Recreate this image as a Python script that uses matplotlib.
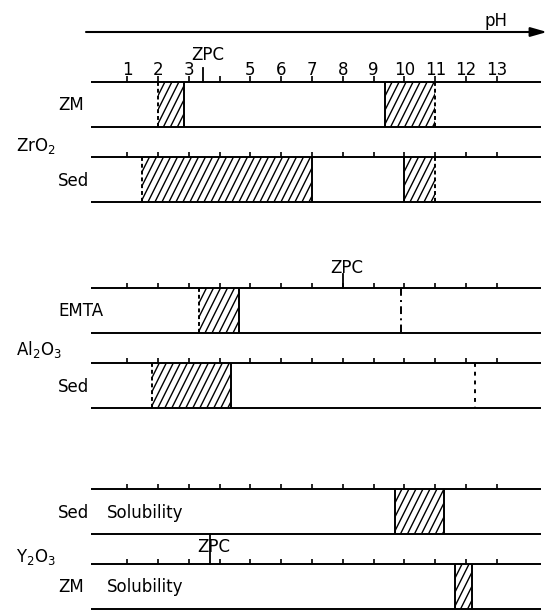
import matplotlib
matplotlib.use("Agg")
import matplotlib.pyplot as plt
import numpy as np
from matplotlib.collections import LineCollection
from matplotlib.patches import Rectangle

plt.rcParams["font.family"] = "DejaVu Sans"
plt.rcParams["mathtext.default"] = "regular"

# pH scale shown on the top row
PH_TICKS = list(range(1, 14))
PH_TICK_LABELS = ["1", "2", "3", "", "5", "6", "7", "8", "9", "10", "11", "12", "13"]

# one row per method, grouped by oxide
ROW_LABELS = ["ZM", "Sed", "EMTA", "Sed", "Sed", "ZM"]
ROW_NOTES = ["", "", "", "", "Solubility", "Solubility"]
OXIDES = ["ZrO$_2$", "Al$_2$O$_3$", "Y$_2$O$_3$"]

# hatched pH windows for each row
BAND_LO = [[2.0, 9.37], [1.5, 10.0], [3.35], [1.82], [9.69], [11.64]]
BAND_HI = [[2.85, 11.0], [7.0, 11.0], [4.64], [4.37], [11.27], [12.2]]
# boundaries that are not firmly fixed (drawn dashed)
LO_OPEN = [[True, False], [True, False], [True], [True], [False], [False]]
HI_OPEN = [[False, True], [False, True], [False], [False], [False], [False]]

# zero point of charge of each oxide
ZPC_ROW = [0, 2, 5]
ZPC_PH = [3.47, 8.0, 3.69]

# single pH marks
EMTA_MARK_PH = 9.9
SED_AL_MARK_PH = 12.3


# ---- layout (pixels) ----
W, H = 549, 612
PX_PER_PH = 30.83
PH0_PX = 96.2
ROW_TOP = [82, 157, 288, 363, 489, 564]
ROW_H = 45
LINE_X = (-0.17, 14.43)
OXIDE_Y = [146, 350, 557]


def px_to_ph(px):
    return (px - PH0_PX) / PX_PER_PH


def hatch_band(ax, lo, hi, top, spacing_px=7.0, rise=2.0):
    rect = Rectangle((lo, top), hi - lo, ROW_H, facecolor="none", edgecolor="none")
    ax.add_patch(rect)
    dx = ROW_H / rise / PX_PER_PH
    step = spacing_px / PX_PER_PH
    starts = np.arange(lo - dx, hi + step, step)
    segs = [[(x0, top + ROW_H), (x0 + dx, top)] for x0 in starts]
    lc = LineCollection(segs, colors="black", linewidths=1.0)
    ax.add_collection(lc)
    lc.set_clip_path(rect)


def band_edge(ax, x, top, is_open):
    ls = (0, (2.0, 1.5)) if is_open else "-"
    ax.plot([x, x], [top, top + ROW_H], color="black", lw=1.4, ls=ls,
            solid_capstyle="butt")


fig = plt.figure(figsize=(W / 100, H / 100), dpi=100)
ax = fig.add_axes([0, 0, 1, 1])
ax.set_xlim(px_to_ph(0), px_to_ph(W))
ax.set_ylim(H, 0)
ax.axis("off")

# pH arrow
ax.annotate("", xy=(px_to_ph(547), 32), xytext=(px_to_ph(86), 32),
            arrowprops=dict(arrowstyle="-|>,head_length=0.7,head_width=0.2",
                            lw=1.5, color="black", shrinkA=0, shrinkB=0,
                            mutation_scale=14))
ax.text(px_to_ph(496), 21, "pH", fontsize=12, ha="center", va="center")

for i, top in enumerate(ROW_TOP):
    ax.hlines([top, top + ROW_H], *LINE_X, color="black", lw=1.4)
    tick_len = 6 if i == 0 else 5
    ax.vlines(PH_TICKS, top - tick_len, top, color="black", lw=1.2)

    for lo, hi, lo_open, hi_open in zip(BAND_LO[i], BAND_HI[i], LO_OPEN[i], HI_OPEN[i]):
        hatch_band(ax, lo, hi, top)
        band_edge(ax, lo, top, lo_open)
        band_edge(ax, hi, top, hi_open)

    mid = top + ROW_H / 2
    ax.text(px_to_ph(58), mid + 1, ROW_LABELS[i], fontsize=12, ha="left", va="center")
    if ROW_NOTES[i]:
        ax.text(px_to_ph(107), mid + 1, ROW_NOTES[i], fontsize=12, ha="left", va="center")

# pH numbers above the first row
for t, lab in zip(PH_TICKS, PH_TICK_LABELS):
    ax.text(t, 70, lab, fontsize=12, ha="center", va="center")

for name, y in zip(OXIDES, OXIDE_Y):
    ax.text(px_to_ph(16), y, name, fontsize=12, ha="left", va="center")

# ZPC marks: the stroke runs into the stem of the "P"
zpc_label_y = [55, 268, 547]
zpc_stroke = [(68, ROW_TOP[0]), (274, ROW_TOP[2]), (ROW_TOP[4] + ROW_H, ROW_TOP[5])]
for row, ph, ly, (y0, y1) in zip(ZPC_ROW, ZPC_PH, zpc_label_y, zpc_stroke):
    ax.plot([ph, ph], [y0, y1], color="black", lw=1.3)
    ax.annotate("ZPC", xy=(ph, ly), xytext=(-8.8, 0), textcoords="offset points",
                fontsize=12, ha="left", va="center")

# single marks on the alumina rows
ax.plot([EMTA_MARK_PH] * 2, [ROW_TOP[2], ROW_TOP[2] + ROW_H], color="black",
        lw=1.4, ls=(0, (4, 2.2, 1, 2.2)))
ax.plot([SED_AL_MARK_PH] * 2, [ROW_TOP[3], ROW_TOP[3] + ROW_H], color="black",
        lw=1.4, ls=(0, (2, 2.5)))

fig.savefig("out.png", dpi=100)
